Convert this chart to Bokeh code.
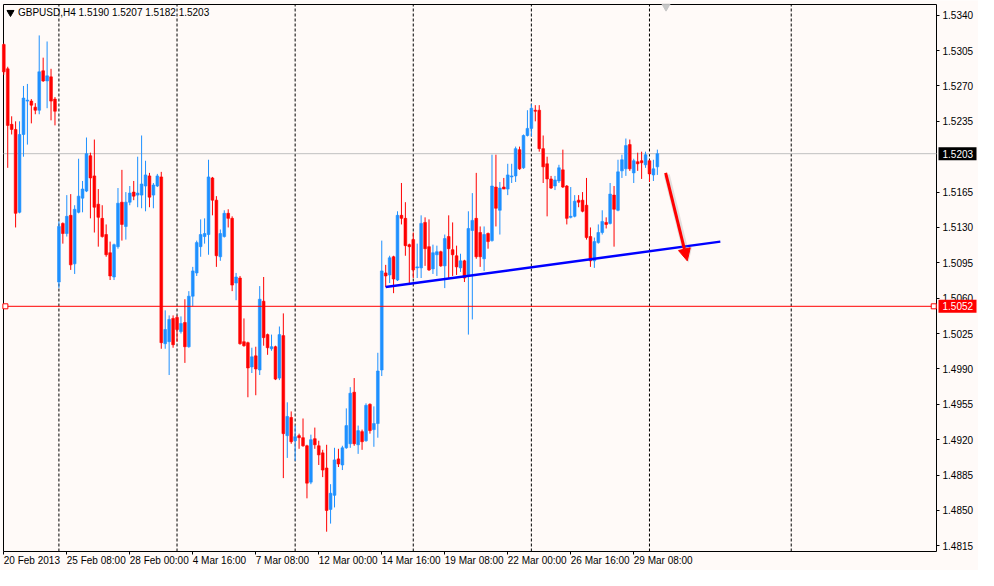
from bokeh.plotting import figure
from bokeh.models import (ColumnDataSource, Arrow, NormalHead, FixedTicker, LinearAxis,
                          Range1d, PrintfTickFormatter)
from bokeh.core.properties import value
from bokeh.embed import file_html
from bokeh.resources import INLINE

# ---------------- data (GBPUSD H4) ----------------
opens = [1.5311, 1.5287, 1.5232, 1.5227, 1.5145, 1.5222, 1.5255, 1.5255, 1.5249, 1.5246,
         1.5285, 1.5275, 1.5279, 1.5257, 1.5076, 1.5134, 1.5124, 1.5142, 1.5094, 1.5145,
         1.5159, 1.5166, 1.5201, 1.5181, 1.5153, 1.5139, 1.5123, 1.5105, 1.5081, 1.5111,
         1.5155, 1.5131, 1.5155, 1.5165, 1.5162, 1.5162, 1.5171, 1.5181, 1.5162, 1.5171,
         1.5180, 1.5015, 1.5017, 1.5040, 1.5041, 1.5027, 1.5036, 1.5012, 1.5062, 1.5085,
         1.5111, 1.5121, 1.5123, 1.5179, 1.5157, 1.5101, 1.5121, 1.5144, 1.5139, 1.5075,
         1.5080, 1.5017, 1.5016, 1.4992, 1.5003, 1.4989, 1.5057, 1.5024, 1.5010, 1.5012,
         1.4981, 1.5023, 1.4924, 1.4942, 1.4919, 1.4924, 1.4922, 1.4914, 1.4878, 1.4921,
         1.4914, 1.4907, 1.4892, 1.4851, 1.4865, 1.4901, 1.4895, 1.4912, 1.4916, 1.4967,
         1.4915, 1.4928, 1.4919, 1.4955, 1.4930, 1.4936, 1.4989, 1.5085, 1.5083, 1.5101,
         1.5078, 1.5142, 1.5139, 1.5113, 1.5118, 1.5090, 1.5090, 1.5135, 1.5111, 1.5089,
         1.5103, 1.5106, 1.5092, 1.5121, 1.5108, 1.5102, 1.5090, 1.5097, 1.5083, 1.5127,
         1.5139, 1.5125, 1.5099, 1.5124, 1.5117, 1.5170, 1.5147, 1.5170, 1.5168, 1.5180,
         1.5181, 1.5207, 1.5189, 1.5221, 1.5228, 1.5246, 1.5246, 1.5208, 1.5193, 1.5178,
         1.5171, 1.5176, 1.5187, 1.5171, 1.5140, 1.5141, 1.5157, 1.5157, 1.5152, 1.5121,
         1.5097, 1.5115, 1.5125, 1.5135, 1.5134, 1.5162, 1.5147, 1.5186, 1.5188, 1.5212,
         1.5184, 1.5195, 1.5196, 1.5192, 1.5196, 1.5182, 1.5190]
highs = [1.5312, 1.5289, 1.5240, 1.5235, 1.5235, 1.5270, 1.5272, 1.5257, 1.5253, 1.5320,
         1.5298, 1.5314, 1.5287, 1.5259, 1.5136, 1.5135, 1.5162, 1.5163, 1.5152, 1.5198,
         1.5176, 1.5219, 1.5204, 1.5217, 1.5168, 1.5152, 1.5133, 1.5116, 1.5114, 1.5169,
         1.5187, 1.5165, 1.5171, 1.5176, 1.5200, 1.5221, 1.5196, 1.5184, 1.5174, 1.5183,
         1.5185, 1.5048, 1.5043, 1.5043, 1.5043, 1.5042, 1.5059, 1.5067, 1.5091, 1.5117,
         1.5138, 1.5139, 1.5197, 1.5180, 1.5161, 1.5128, 1.5147, 1.5148, 1.5141, 1.5085,
         1.5082, 1.5040, 1.5017, 1.5011, 1.5012, 1.5072, 1.5081, 1.5025, 1.5024, 1.5013,
         1.5032, 1.5045, 1.4957, 1.4948, 1.4934, 1.4926, 1.4941, 1.4915, 1.4925, 1.4932,
         1.4919, 1.4910, 1.4915, 1.4876, 1.4912, 1.4911, 1.4914, 1.4951, 1.4972, 1.4981,
         1.4934, 1.4930, 1.4956, 1.4956, 1.4953, 1.5006, 1.5117, 1.5093, 1.5102, 1.5102,
         1.5146, 1.5174, 1.5155, 1.5114, 1.5125, 1.5114, 1.5142, 1.5140, 1.5138, 1.5113,
         1.5112, 1.5107, 1.5123, 1.5142, 1.5135, 1.5112, 1.5104, 1.5098, 1.5146, 1.5164,
         1.5184, 1.5131, 1.5131, 1.5125, 1.5202, 1.5202, 1.5175, 1.5179, 1.5193, 1.5193,
         1.5210, 1.5210, 1.5222, 1.5246, 1.5252, 1.5251, 1.5251, 1.5221, 1.5200, 1.5181,
         1.5181, 1.5192, 1.5207, 1.5172, 1.5170, 1.5162, 1.5162, 1.5165, 1.5179, 1.5130,
         1.5120, 1.5133, 1.5147, 1.5140, 1.5174, 1.5171, 1.5197, 1.5202, 1.5218, 1.5217,
         1.5198, 1.5204, 1.5205, 1.5205, 1.5197, 1.5197, 1.5207]
lows = [1.5281, 1.5189, 1.5222, 1.5130, 1.5144, 1.5200, 1.5212, 1.5233, 1.5242, 1.5242,
        1.5274, 1.5248, 1.5236, 1.5231, 1.5070, 1.5114, 1.5121, 1.5088, 1.5084, 1.5144,
        1.5145, 1.5165, 1.5139, 1.5125, 1.5111, 1.5120, 1.5101, 1.5078, 1.5078, 1.5109,
        1.5117, 1.5118, 1.5152, 1.5157, 1.5150, 1.5149, 1.5146, 1.5150, 1.5149, 1.5170,
        1.5010, 1.5010, 1.4984, 1.5011, 1.5017, 1.5025, 1.4996, 1.5011, 1.5052, 1.5082,
        1.5101, 1.5114, 1.5103, 1.5142, 1.5091, 1.5097, 1.5120, 1.5130, 1.5067, 1.5058,
        1.5014, 1.5012, 1.4962, 1.4986, 1.4964, 1.4984, 1.5013, 1.5004, 1.5008, 1.4979,
        1.4979, 1.4882, 1.4902, 1.4916, 1.4899, 1.4911, 1.4913, 1.4862, 1.4876, 1.4911,
        1.4895, 1.4883, 1.4829, 1.4837, 1.4853, 1.4893, 1.4890, 1.4911, 1.4912, 1.4914,
        1.4906, 1.4910, 1.4918, 1.4926, 1.4913, 1.4922, 1.4983, 1.5071, 1.5075, 1.5065,
        1.5077, 1.5133, 1.5102, 1.5073, 1.5080, 1.5080, 1.5080, 1.5092, 1.5087, 1.5084,
        1.5082, 1.5091, 1.5070, 1.5080, 1.5082, 1.5083, 1.5086, 1.5076, 1.5024, 1.5039,
        1.5099, 1.5091, 1.5087, 1.5109, 1.5116, 1.5131, 1.5123, 1.5168, 1.5162, 1.5174,
        1.5175, 1.5187, 1.5188, 1.5220, 1.5220, 1.5235, 1.5205, 1.5174, 1.5141, 1.5168,
        1.5167, 1.5174, 1.5169, 1.5133, 1.5139, 1.5140, 1.5150, 1.5145, 1.5118, 1.5091,
        1.5090, 1.5114, 1.5123, 1.5129, 1.5133, 1.5111, 1.5146, 1.5179, 1.5181, 1.5186,
        1.5174, 1.5186, 1.5178, 1.5189, 1.5175, 1.5176, 1.5182]
closes = [1.5284, 1.5231, 1.5227, 1.5144, 1.5222, 1.5258, 1.5256, 1.5251, 1.5246, 1.5284,
          1.5275, 1.5280, 1.5255, 1.5245, 1.5131, 1.5124, 1.5141, 1.5093, 1.5148, 1.5161,
          1.5168, 1.5203, 1.5179, 1.5150, 1.5140, 1.5121, 1.5103, 1.5082, 1.5113, 1.5154,
          1.5133, 1.5155, 1.5164, 1.5161, 1.5164, 1.5173, 1.5182, 1.5160, 1.5172, 1.5181,
          1.5016, 1.5029, 1.5039, 1.5014, 1.5029, 1.5035, 1.5012, 1.5062, 1.5087, 1.5115,
          1.5123, 1.5124, 1.5180, 1.5157, 1.5102, 1.5124, 1.5144, 1.5139, 1.5073, 1.5081,
          1.5015, 1.5013, 1.4991, 1.5002, 1.4990, 1.5059, 1.5021, 1.5011, 1.5012, 1.4980,
          1.5024, 1.4926, 1.4943, 1.4918, 1.4923, 1.4922, 1.4914, 1.4877, 1.4920, 1.4915,
          1.4905, 1.4890, 1.4850, 1.4867, 1.4900, 1.4896, 1.4912, 1.4934, 1.4966, 1.4916,
          1.4929, 1.4918, 1.4954, 1.4929, 1.4936, 1.4988, 1.5087, 1.5082, 1.5100, 1.5079,
          1.5142, 1.5139, 1.5112, 1.5111, 1.5088, 1.5091, 1.5134, 1.5109, 1.5088, 1.5105,
          1.5106, 1.5092, 1.5119, 1.5109, 1.5103, 1.5091, 1.5097, 1.5080, 1.5129, 1.5137,
          1.5101, 1.5101, 1.5123, 1.5116, 1.5171, 1.5149, 1.5169, 1.5168, 1.5182, 1.5181,
          1.5208, 1.5188, 1.5221, 1.5228, 1.5248, 1.5245, 1.5208, 1.5190, 1.5178, 1.5169,
          1.5177, 1.5189, 1.5170, 1.5139, 1.5141, 1.5156, 1.5155, 1.5146, 1.5120, 1.5097,
          1.5116, 1.5125, 1.5136, 1.5133, 1.5163, 1.5148, 1.5185, 1.5197, 1.5211, 1.5188,
          1.5196, 1.5193, 1.5194, 1.5202, 1.5183, 1.5188, 1.5203]

x_tick_bars = [0, 16, 32, 48, 64, 80, 96, 112, 128, 144, 160]
x_tick_labels = ["20 Feb 2013", "25 Feb 08:00", "28 Feb 00:00", "4 Mar 16:00", "7 Mar 08:00",
                 "12 Mar 00:00", "14 Mar 16:00", "19 Mar 08:00", "22 Mar 00:00",
                 "26 Mar 16:00", "29 Mar 08:00"]
y_ticks = [1.4815, 1.4850, 1.4885, 1.4920, 1.4955, 1.4990, 1.5025, 1.5060, 1.5095,
           1.5130, 1.5165, 1.5235, 1.5270, 1.5305, 1.5340]
grid_bars = [14, 44, 74, 104, 134, 164, 200]

bid_price = 1.5203
level_price = 1.5052
trend_x = [97, 182]
trend_y = [1.5071, 1.5116]
arrow_x = [168.1, 173.6]
arrow_y = [1.5184, 1.5097]
title_text = "GBPUSD,H4  1.5190 1.5207 1.5182 1.5203"

BLUE = "#1E90FF"
RED = "#FF0000"
BG = "#FFFAF8"
FONT = "Liberation Sans"

# ---------------- layout ----------------
W, H = 978, 570
# chart box (data units)
X0, X1 = -0.075, 236.9
Y0, Y1 = 1.48094, 1.53506
BOX_L, BOX_R, BOX_T, BOX_B = 3, 936, 4, 551          # chart box in pixels
ppx = (BOX_R - BOX_L) / (X1 - X0)
ppy = (BOX_B - BOX_T) / (Y1 - Y0)
XL = X0 - BOX_L / ppx
XR = XL + W / ppx
YT = Y1 + BOX_T / ppy
YB = YT - H / ppy

def px_to_x(px):
    return XL + px / ppx

p = figure(width=W, height=H, x_range=Range1d(XL, XR), y_range=Range1d(YB, YT),
           output_backend="svg", toolbar_location=None,
           x_axis_location=None, y_axis_location=None,
           min_border=0, min_border_left=0, min_border_right=0,
           min_border_top=0, min_border_bottom=0)
p.background_fill_color = BG
p.border_fill_color = BG
p.outline_line_color = None
p.grid.visible = False

# axes drawn at the edges of the chart box
yax = LinearAxis(fixed_location=X1, ticker=FixedTicker(ticks=y_ticks),
                 formatter=PrintfTickFormatter(format="%.4f"))
xax = LinearAxis(fixed_location=Y0, ticker=FixedTicker(ticks=x_tick_bars),
                 major_label_overrides={b: t for b, t in zip(x_tick_bars, x_tick_labels)},
                 major_label_orientation=-0.0001)
for ax in (xax, yax):
    ax.axis_line_color = None
    ax.major_tick_line_color = "black"
    ax.major_tick_out = 3
    ax.major_tick_in = 0
    ax.minor_tick_out = 0
    ax.minor_tick_in = 0
    ax.major_label_text_font = FONT
    ax.major_label_text_font_size = "10px"
    ax.major_label_text_color = "black"
yax.major_label_standoff = 3
xax.major_label_standoff = 6
p.add_layout(yax, "right")
p.add_layout(xax, "below")

# chart box border
p.segment(x0=[X0, X0, X0, X1], y0=[Y0, Y1, Y0, Y0], x1=[X1, X1, X0, X1], y1=[Y0, Y1, Y1, Y1],
          line_color="black", line_width=1)

# dashed vertical grid
p.segment(x0=grid_bars, y0=[Y0] * len(grid_bars), x1=grid_bars, y1=[Y1] * len(grid_bars),
          line_color="black", line_dash="3 2", line_width=1)

# bid line
p.segment(x0=[X0], y0=[bid_price], x1=[X1], y1=[bid_price], line_color="#C0C0C0", line_width=1)

# candles
idx = list(range(len(opens)))
cols = [BLUE if c >= o else RED for o, c in zip(opens, closes)]
src = ColumnDataSource(dict(x=idx, o=opens, h=highs, l=lows, c=closes,
                            top=[max(o, c) for o, c in zip(opens, closes)],
                            bot=[min(o, c) for o, c in zip(opens, closes)],
                            col=cols))
p.segment(x0="x", y0="h", x1="x", y1="l", line_color="col", line_width=1, source=src)
p.vbar(x="x", width=0.7, top="top", bottom="bot", fill_color="col", line_color="col",
       line_width=0.6, source=src)

# horizontal level line with end squares
p.line([0.4, 236.2], [level_price, level_price], line_color=RED, line_width=1)
p.scatter([0.4, 236.2], [level_price, level_price], marker="square", size=5,
          fill_color="white", line_color=RED, line_width=1)

# trend line
p.line(trend_x, trend_y, line_color="#0000FF", line_width=2.5)

# arrow with soft shadow
p.add_layout(Arrow(x_start=arrow_x[0] + 0.3, y_start=arrow_y[0] - 0.0002,
                   x_end=arrow_x[1] + 0.3, y_end=arrow_y[1] - 0.0002,
                   line_color="#909090", line_alpha=0.25, line_width=6,
                   end=NormalHead(size=15, fill_color="#909090", fill_alpha=0.25, line_alpha=0)))
p.add_layout(Arrow(x_start=arrow_x[0], y_start=arrow_y[0], x_end=arrow_x[1], y_end=arrow_y[1],
                   line_color=RED, line_width=3,
                   end=NormalHead(size=12, fill_color=RED, line_color=RED)))

# chart shift marker and title
p.scatter([168.2], [1.53486], marker="inverted_triangle", size=8, color="#C8C8C8")
p.scatter([1.7], [1.53427], marker="inverted_triangle", size=7, color="black")
p.text(x=[3.6], y=[1.53427], text=[title_text], text_align="left", text_baseline="middle",
       text_font=value(FONT), text_font_size="10px", text_color="black")

# price boxes on the axis
box_x = px_to_x(957)
txt_x = px_to_x(942)
prices = [bid_price, level_price]
p.rect(x=[box_x, box_x], y=prices, width=38, height=13, width_units="screen",
       height_units="screen", fill_color=["black", RED], line_color=None, level="overlay")
p.text(x=[txt_x, txt_x], y=prices, text=["%.4f" % v for v in prices], text_align="left",
       text_baseline="middle", text_font=value(FONT), text_font_size="10px",
       text_color="white", level="overlay")

open("out.html", "w").write(file_html(p, INLINE))
